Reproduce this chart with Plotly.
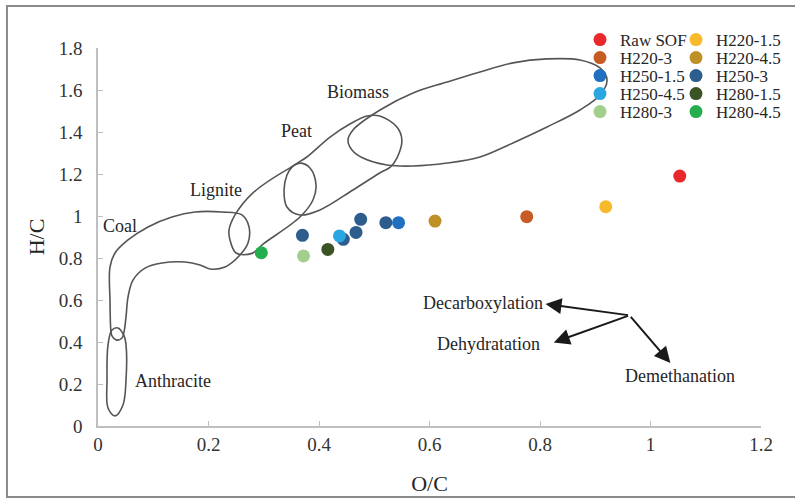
import plotly.graph_objects as go

# ---- data ----
series_x = {
    "Raw SOF": [1.053],
    "H220-1.5": [0.919],
    "H220-3": [0.776],
    "H220-4.5": [0.610],
    "H250-1.5": [0.544],
    "H250-3": [0.521, 0.4755, 0.467, 0.444, 0.370],
    "H250-4.5": [0.437],
    "H280-1.5": [0.416],
    "H280-3": [0.372],
    "H280-4.5": [0.2956],
}
series_y = {
    "Raw SOF": [1.19],
    "H220-1.5": [1.044],
    "H220-3": [0.997],
    "H220-4.5": [0.976],
    "H250-1.5": [0.968],
    "H250-3": [0.968, 0.984, 0.922, 0.889, 0.908],
    "H250-4.5": [0.905],
    "H280-1.5": [0.841],
    "H280-3": [0.810],
    "H280-4.5": [0.825],
}
series_colors = {
    "Raw SOF": "#E8282B",
    "H220-1.5": "#F6BA2A",
    "H220-3": "#C65C24",
    "H220-4.5": "#BE9126",
    "H250-1.5": "#1F70BF",
    "H250-3": "#2C5D8D",
    "H250-4.5": "#2AA7E1",
    "H280-1.5": "#3C5326",
    "H280-3": "#A3CF8C",
    "H280-4.5": "#23AF4E",
}
# legend rows (left column, right column)
legend_rows = [("Raw SOF", "H220-1.5"), ("H220-3", "H220-4.5"), ("H250-1.5", "H250-3"),
               ("H250-4.5", "H280-1.5"), ("H280-3", "H280-4.5")]
draw_order = ["Raw SOF", "H220-1.5", "H220-3", "H220-4.5", "H250-3",
              "H250-1.5", "H250-4.5", "H280-1.5", "H280-3", "H280-4.5"]

# Van Krevelen region outlines (O/C, H/C)
biomass_x = [0.4525, 0.4615, 0.5104, 0.5701, 0.6317, 0.6914, 0.7511, 0.8127, 0.8724, 0.9086, 0.9213,
             0.9086, 0.8724, 0.8127, 0.7511, 0.6914, 0.6317, 0.5701, 0.5231, 0.4796, 0.4597, 0.4525]
biomass_y = [1.362, 1.410, 1.505, 1.586, 1.638, 1.686, 1.729, 1.748, 1.743, 1.705, 1.648,
             1.576, 1.505, 1.424, 1.348, 1.281, 1.252, 1.238, 1.243, 1.276, 1.314, 1.362]
peat_x = [0.342, 0.351, 0.378, 0.420, 0.456, 0.487, 0.510, 0.541, 0.550, 0.541, 0.529, 0.510,
          0.4615, 0.4018, 0.3656, 0.342, 0.3367, 0.342]
peat_y = [1.195, 1.233, 1.281, 1.376, 1.438, 1.476, 1.476, 1.424, 1.362, 1.276, 1.233, 1.205,
          1.124, 1.029, 1.005, 1.043, 1.124, 1.195]
lignite_x = [0.2389, 0.2498, 0.2787, 0.2986, 0.3656, 0.3891, 0.3946, 0.3837, 0.3656, 0.3475,
             0.2805, 0.2480, 0.2371, 0.2389]
lignite_y = [0.886, 0.824, 0.822, 0.866, 0.995, 1.076, 1.148, 1.229, 1.252, 1.229,
             1.110, 1.005, 0.933, 0.886]
coal_x = [0.0235, 0.0217, 0.0217, 0.0308, 0.0543, 0.0905, 0.1339, 0.1756, 0.2244, 0.2606, 0.2733,
          0.2715, 0.2570, 0.2299, 0.2027, 0.1846, 0.1575, 0.1158, 0.0851, 0.0633, 0.0543, 0.0507,
          0.0471, 0.0434, 0.0326, 0.0253, 0.0235]
coal_y = [0.448, 0.600, 0.757, 0.824, 0.886, 0.948, 0.995, 1.019, 1.019, 1.005, 0.948,
          0.871, 0.814, 0.757, 0.748, 0.767, 0.781, 0.776, 0.752, 0.695, 0.614, 0.519,
          0.448, 0.419, 0.410, 0.429, 0.448]
anthracite_x = [0.0362, 0.0470, 0.0507, 0.0507, 0.0452, 0.0308, 0.0181, 0.0163, 0.0181, 0.0253, 0.0362]
anthracite_y = [0.467, 0.430, 0.386, 0.219, 0.100, 0.048, 0.086, 0.219, 0.386, 0.457, 0.467]

region_labels = ["Coal", "Lignite", "Peat", "Biomass", "Anthracite"]
region_label_x = [0.040, 0.2136, 0.360, 0.4706, 0.1357]
region_label_y = [0.952, 1.124, 1.405, 1.590, 0.214]

arrow_origin = (0.962, 0.527)
arrow_labels = ["Decarboxylation", "Dehydratation", "Demethanation"]
arrow_tip_x = [0.810, 0.825, 1.036]
arrow_tip_y = [0.581, 0.398, 0.300]
arrow_label_x = [0.697, 0.706, 1.053]
arrow_label_y = [0.586, 0.390, 0.238]

x_ticks = [0, 0.2, 0.4, 0.6, 0.8, 1, 1.2]
y_ticks = [0, 0.2, 0.4, 0.6, 0.8, 1, 1.2, 1.4, 1.6, 1.8]

FONT = "Liberation Serif"
OUTLINE = "#555555"
TXT = "#262626"

fig = go.Figure()

for ox, oy in [(biomass_x, biomass_y), (peat_x, peat_y), (lignite_x, lignite_y),
               (coal_x, coal_y), (anthracite_x, anthracite_y)]:
    fig.add_trace(go.Scatter(x=ox, y=oy, mode="lines",
                             line=dict(color=OUTLINE, width=1.6, shape="spline", smoothing=1.0),
                             showlegend=False, hoverinfo="skip"))

# one single-entry legend per cell of the 5 x 2 legend grid
legend_of = {}
legend_layouts = {}
col_left_px = [580, 676]
row_top_px = 22
k = 0
for r, row in enumerate(legend_rows):
    for c, name in enumerate(row):
        k += 1
        lid = "legend" if k == 1 else f"legend{k}"
        legend_of[name] = lid
        legend_layouts[lid] = dict(
            font=dict(family=FONT, size=17, color=TXT), bgcolor="rgba(0,0,0,0)",
            itemwidth=30, x=(col_left_px[c] - 98) / 663, y=(426 - (row_top_px + 18 * r)) / 378,
            xanchor="left", yanchor="top",
        )

for name in draw_order:
    fig.add_trace(go.Scatter(
        x=series_x[name], y=series_y[name], mode="markers", name=name,
        marker=dict(color=series_colors[name], size=13),
        legend=legend_of[name],
    ))

for t, lx, ly in zip(region_labels, region_label_x, region_label_y):
    fig.add_annotation(x=lx, y=ly, text=t, showarrow=False,
                       font=dict(family=FONT, size=18, color=TXT))

for tx, ty in zip(arrow_tip_x, arrow_tip_y):
    fig.add_annotation(x=tx, y=ty, ax=arrow_origin[0], ay=arrow_origin[1], axref="x", ayref="y",
                       xref="x", yref="y", text="", showarrow=True, arrowhead=2, arrowsize=1.6,
                       arrowwidth=2, arrowcolor="#1a1a1a")
for t, lx, ly in zip(arrow_labels, arrow_label_x, arrow_label_y):
    fig.add_annotation(x=lx, y=ly, text=t, showarrow=False,
                       font=dict(family=FONT, size=18, color=TXT))

# outer frame
fig.add_shape(type="rect", xref="paper", yref="paper", x0=-0.1373, x1=1.06, y0=-0.1878, y1=1.111,
              line=dict(color="#8a8a8a", width=2), fillcolor="rgba(0,0,0,0)", layer="below")

fig.update_layout(
    width=795, height=501,
    margin=dict(l=98, r=34, t=48, b=75, autoexpand=False),
    paper_bgcolor="white", plot_bgcolor="white",
    font=dict(family=FONT, color=TXT),
    xaxis=dict(range=[0, 1.2], tickvals=x_ticks, ticktext=[f"{v:g}" for v in x_ticks],
               showgrid=False, zeroline=False, showline=True, linecolor="#bfbfbf", linewidth=1.5,
               ticks="inside", ticklen=5, tickcolor="#bfbfbf",
               tickfont=dict(family=FONT, size=19, color="#333"), ticklabelstandoff=0,
               title=dict(text="O/C", font=dict(family=FONT, size=22, color=TXT), standoff=22)),
    yaxis=dict(range=[0, 1.8], tickvals=y_ticks, ticktext=[f"{v:g}" for v in y_ticks],
               showgrid=False, zeroline=False, showline=True, linecolor="#bfbfbf", linewidth=1.5,
               ticks="inside", ticklen=5, tickcolor="#bfbfbf",
               tickfont=dict(family=FONT, size=19, color="#333"), ticklabelstandoff=10,
               title=dict(text="H/C", font=dict(family=FONT, size=22, color=TXT), standoff=8)),
    **legend_layouts,
)

fig.write_html("out.html")
